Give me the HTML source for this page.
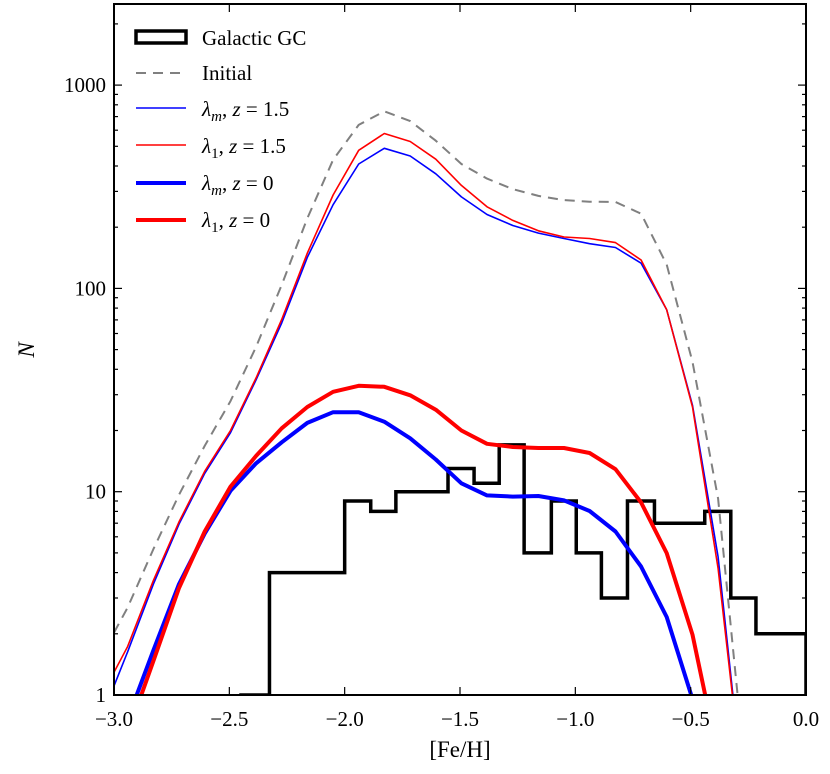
<!DOCTYPE html>
<html><head><meta charset="utf-8">
<style>
html,body{margin:0;padding:0;background:#fff;width:830px;height:774px;overflow:hidden;position:relative;}
svg{display:block;font-family:"Liberation Serif","DejaVu Serif",serif;}
</style></head>
<body>
<svg id="chart" width="830" height="774" viewBox="0 0 830 774" xmlns="http://www.w3.org/2000/svg" style="position:absolute;left:0;top:0">
<defs><clipPath id="plotclip"><rect x="114" y="4" width="692" height="691"/></clipPath></defs>
<g id="marks" clip-path="url(#plotclip)"></g>
<g id="axes"></g>
<g id="legend"></g>
</svg>
<script>
// ---- data ----
const histEdges = [-2.457,-2.326,-2.217,-2.109,-2.0,-1.887,-1.778,-1.665,-1.552,-1.439,-1.330,-1.222,-1.104,-0.996,-0.887,-0.774,-0.657,-0.548,-0.439,-0.326,-0.217,-0.109,0.0];
const histCounts = [1,4,4,4,9,8,10,10,13,11,17,5,9,5,3,9,7,7,8,3,2,2];
const gridX = [-3.052,-2.941,-2.829,-2.718,-2.607,-2.495,-2.384,-2.273,-2.162,-2.050,-1.939,-1.828,-1.716,-1.605,-1.494,-1.383,-1.271,-1.160,-1.049,-0.938,-0.826,-0.715,-0.604,-0.492,-0.381,-0.270,-0.159];
const initialN = [1.58,2.69,5.22,9.66,16.8,27.9,51.6,104,221,429,637,743,665,533,409,347,308,285,272,267,266,233,131,43.5,9.25,0.5,0.1];
const lamMz15 = [0.79,1.63,3.51,6.92,12.3,19.5,35.5,67.6,142,258,409,489,448,366,282,231,204,187,176,166,159,133,78.5,26.6,4.78,0.32,0.1];
const lam1z15 = [1.0,1.73,3.66,7.10,12.6,20.0,36.3,70.3,149,288,478,578,528,432,321,252,216,192,179,176,168,138,78.5,26.1,4.19,0.32,0.1];
const lamMz0 = [0.126,0.76,1.66,3.51,6.22,10.1,13.8,17.5,21.8,24.6,24.6,22.1,18.3,14.4,11.0,9.59,9.46,9.53,9.06,8.04,6.37,4.28,2.42,0.955,0.32,0.1,0.03];
const lam1z0 = [0.126,0.646,1.47,3.36,6.37,10.6,15.0,20.5,26.1,31.0,33.2,32.8,29.8,25.3,20.0,17.2,16.6,16.4,16.4,15.5,12.9,8.85,4.99,1.98,0.5,0.1,0.03];
const xTicks = [-3.0,-2.5,-2.0,-1.5,-1.0,-0.5,0.0];
const xTickLabels = ["\u22123.0","\u22122.5","\u22122.0","\u22121.5","\u22121.0","\u22120.5","0.0"];
const yTicks = [1,10,100,1000];
const yTickLabels = ["1","10","100","1000"];

// ---- scales ----
const L=114,R=806,T=4,B=695;
const DECADE=203.3;
function sx(v){return L+(v+3)/3*(R-L);}
function sy(v){return B-Math.log10(v)*DECADE;}
const NS="http://www.w3.org/2000/svg";
function mk(tag,attrs,parent){const e=document.createElementNS(NS,tag);for(const k in attrs)e.setAttribute(k,attrs[k]);parent.appendChild(e);return e;}
const marks=document.getElementById('marks'),axes=document.getElementById('axes');

// histogram
let d='M'+sx(histEdges[0])+' '+sy(histCounts[0]);
for(let i=0;i<histCounts.length;i++){
  if(i>0) d+=' V'+sy(histCounts[i]);
  d+=' H'+sx(histEdges[i+1]);
}
d+=' V'+sy(1);
const hist=mk('path',{d:d,fill:'none',stroke:'#000','stroke-width':3.5,'stroke-linejoin':'miter'},marks);



// clip a polyline to region x>=L, y<=B (interpolating crossings)
function clipPts(raw){
  const out=[];
  function inside(p){return p[1]<=B && p[0]>=L;}
  function cross(a,b){
    // intersect with y=B or x=L
    let t=1;
    if(a[1]<=B && b[1]>B) t=Math.min(t,(B-a[1])/(b[1]-a[1]));
    if(a[1]>B && b[1]<=B) t=Math.min(t,(B-a[1])/(b[1]-a[1]));
    if(a[0]<L && b[0]>=L) t=Math.min(t,(L-a[0])/(b[0]-a[0]));
    return [a[0]+(b[0]-a[0])*t,a[1]+(b[1]-a[1])*t];
  }
  for(let i=0;i<raw.length;i++){
    const p=raw[i];
    if(i>0){
      const q=raw[i-1];
      if(inside(q)&&!inside(p)) out.push(crossOut(q,p));
      else if(!inside(q)&&inside(p)) out.push(crossIn(q,p));
    }
    if(inside(p)) out.push(p);
  }
  function crossOut(a,b){const t=(B-a[1])/(b[1]-a[1]);return [a[0]+(b[0]-a[0])*t,B];}
  function crossIn(a,b){
    let t=0;
    if(a[1]>B) t=Math.max(t,(B-a[1])/(b[1]-a[1]));
    if(a[0]<L) t=Math.max(t,(L-a[0])/(b[0]-a[0]));
    return [a[0]+(b[0]-a[0])*t,a[1]+(b[1]-a[1])*t];
  }
  return out;
}
function line(arr,color,w,dash,name){
  const raw=gridX.map((x,i)=>[sx(x),sy(arr[i])]);
  const pts=clipPts(raw).map(p=>p[0].toFixed(1)+','+p[1].toFixed(1)).join(' ');
  const p=mk('polyline',{points:pts,fill:'none',stroke:color,'stroke-width':w,'stroke-linejoin':'round'},marks);
  if(dash)p.setAttribute('stroke-dasharray',dash);
  
  
}
line(initialN,'#808080',2,'10,7','initial-line');
line(lamMz15,'#0000ff',1.6,null,'lambda-m-z1.5-line');
line(lam1z15,'#ff0000',1.6,null,'lambda-1-z1.5-line');
line(lamMz0,'#0000ff',4,null,'lambda-m-z0-line');
line(lam1z0,'#ff0000',4,null,'lambda-1-z0-line');

// frame
const frame=mk('rect',{x:L,y:T,width:R-L,height:B-T,fill:'none',stroke:'#000','stroke-width':2},axes);



// x ticks
xTicks.forEach((v,i)=>{
  const x=sx(v);
  mk('line',{x1:x,y1:B,x2:x,y2:B-8,stroke:'#000','stroke-width':1.2},axes);
  mk('line',{x1:x,y1:T,x2:x,y2:T+8,stroke:'#000','stroke-width':1.2},axes);
  const t=mk('text',{x:x,y:726,'text-anchor':'middle','font-size':21},axes);
  t.textContent=xTickLabels[i];
  
  
});
// y ticks
const yMax=Math.pow(10,(B-T)/DECADE);
for(let dec=1;dec<=1000;dec*=10){
  for(let m=1;m<=9;m++){
    const v=dec*m; if(v>yMax)break;
    const y=sy(v), len=(m===1)?8:4;
    mk('line',{x1:L,y1:y,x2:L+len,y2:y,stroke:'#000','stroke-width':1.2},axes);
    mk('line',{x1:R,y1:y,x2:R-len,y2:y,stroke:'#000','stroke-width':1.2},axes);
  }
}
yTicks.forEach((v,i)=>{
  const t=mk('text',{x:106,y:sy(v)+7,'text-anchor':'end','font-size':21},axes);
  t.textContent=yTickLabels[i];
  
  
});
</script>
<svg style="position:absolute;left:0;top:0" width="830" height="774" viewBox="0 0 830 774" xmlns="http://www.w3.org/2000/svg">
<text x="460" y="757" text-anchor="middle" font-size="23" font-family="Liberation Serif, serif">[Fe/H]</text>
<text x="0" y="0" transform="translate(34,350) rotate(-90)" text-anchor="middle" font-size="23" font-style="italic" font-family="Liberation Serif, serif">N</text>
<g>
<rect x="136" y="31" width="50" height="12" fill="none" stroke="#000" stroke-width="3.5"/>
<text x="202" y="45" font-size="21" font-family="Liberation Serif, serif">Galactic GC</text></g>
<g>
<line x1="136" y1="73" x2="186" y2="73" stroke="#808080" stroke-width="2" stroke-dasharray="10,7"/>
<text x="202" y="80" font-size="21" font-family="Liberation Serif, serif">Initial</text></g>
<g>
<line x1="136" y1="108" x2="186" y2="108" stroke="#0000ff" stroke-width="1.6"/>
<text x="202" y="116" font-size="21" font-family="Liberation Serif, serif"><tspan font-style="italic">λ</tspan><tspan font-size="15" font-style="italic" dy="5">m</tspan><tspan dy="-5">, </tspan><tspan font-style="italic">z</tspan> = 1.5</text></g>
<g>
<line x1="136" y1="145" x2="186" y2="145" stroke="#ff0000" stroke-width="1.6"/>
<text x="202" y="153" font-size="21" font-family="Liberation Serif, serif"><tspan font-style="italic">λ</tspan><tspan font-size="15" dy="5">1</tspan><tspan dy="-5">, </tspan><tspan font-style="italic">z</tspan> = 1.5</text></g>
<g>
<line x1="136" y1="183" x2="186" y2="183" stroke="#0000ff" stroke-width="4"/>
<text x="202" y="190" font-size="21" font-family="Liberation Serif, serif"><tspan font-style="italic">λ</tspan><tspan font-size="15" font-style="italic" dy="5">m</tspan><tspan dy="-5">, </tspan><tspan font-style="italic">z</tspan> = 0</text></g>
<g>
<line x1="136" y1="220" x2="186" y2="220" stroke="#ff0000" stroke-width="4"/>
<text x="202" y="227" font-size="21" font-family="Liberation Serif, serif"><tspan font-style="italic">λ</tspan><tspan font-size="15" dy="5">1</tspan><tspan dy="-5">, </tspan><tspan font-style="italic">z</tspan> = 0</text></g>
</svg>
</body></html>
